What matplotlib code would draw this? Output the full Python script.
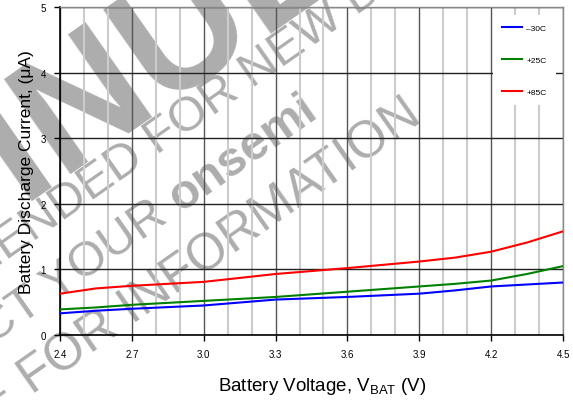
import matplotlib
matplotlib.use("Agg")
import matplotlib.pyplot as plt
import numpy as np

plt.rcParams['font.family'] = ['Liberation Sans', 'DejaVu Sans']

# Data
v = [2.4, 2.55, 2.7, 3.0, 3.3, 3.6, 3.9, 4.05, 4.2, 4.35, 4.5]
i_m30 = [0.33, 0.37, 0.40, 0.45, 0.54, 0.58, 0.63, 0.68, 0.74, 0.77, 0.80]
i_p25 = [0.39, 0.42, 0.46, 0.52, 0.58, 0.66, 0.74, 0.78, 0.83, 0.93, 1.05]
i_p85 = [0.63, 0.71, 0.75, 0.81, 0.93, 1.02, 1.12, 1.18, 1.27, 1.41, 1.58]
labels = ['\u201330C', '+25C', '+85C']
colors = ['#0000ff', '#008000', '#ff0000']
xticks = [2.4, 2.7, 3.0, 3.3, 3.6, 3.9, 4.2, 4.5]
xtick_labels = ['2.4', '2.7', '3.0', '3.3', '3.6', '3.9', '4.2', '4.5']
xminor = [2.5, 2.6, 2.8, 2.9, 3.1, 3.2, 3.4, 3.5, 3.7, 3.8, 4.0, 4.1, 4.3, 4.4]
yticks = [0, 1, 2, 3, 4, 5]

W, H = 573, 402
fig = plt.figure(figsize=(W / 100, H / 100), dpi=100, facecolor='white')
ax = fig.add_axes([60 / W, 1 - 336 / H, 503 / W, 328 / H])
ax.set_facecolor('none')

ax.set_xlim(2.4, 4.5)
ax.set_ylim(0, 5)
ax.set_xticks(xticks)
ax.set_xticklabels(xtick_labels)
ax.set_xticks(xminor, minor=True)
ax.set_yticks(yticks)
ax.tick_params(axis='both', which='major', direction='out', length=4, width=1,
               labelsize=7, pad=6)
ax.tick_params(axis='x', which='minor', length=0)
ax.grid(which='minor', axis='x', color='#cccccc', lw=1.5, zorder=0)
ax.grid(which='major', axis='x', color='#555555', lw=1.0, zorder=1)
ax.grid(which='major', axis='y', color='#222222', lw=1.0, zorder=1)
ax.set_axisbelow(True)
for s in ['left', 'bottom']:
    ax.spines[s].set_color('black')
    ax.spines[s].set_linewidth(1.2)
for s in ['top', 'right']:
    ax.spines[s].set_color('#888888')
    ax.spines[s].set_linewidth(1.0)

for y, lab, c in zip([i_m30, i_p25, i_p85], labels, colors):
    ax.plot(v, y, color=c, lw=1.5, label=lab, zorder=3)

leg = ax.legend(loc='upper left', bbox_to_anchor=((493 - 60) / 503, (336 - 16) / 328),
                fontsize=6, frameon=True, fancybox=False, framealpha=1,
                edgecolor='none', handlelength=2.4, handletextpad=0.5,
                labelspacing=2.9, borderpad=1.1, borderaxespad=0)
leg.set_zorder(2)
for lh in leg.get_lines():
    lh.set_linewidth(1.5)

ax.set_xlabel('Battery Voltage, V$_{\\mathregular{BAT}}$ (V)', fontsize=13.5)
ax.xaxis.set_label_coords((322 - 60) / 503, (336 - 376) / 328)
ax.set_ylabel('Battery Discharge Current, (\u03bcA)', fontsize=12.5, labelpad=5)

# watermark (behind the plot)
def px(x, y):
    return x / W, 1 - y / H

wm = dict(color='#adadad', rotation=35, rotation_mode='anchor',
          va='baseline', zorder=-5)
fig.text(*px(-75, 268), 'DISCONTINUED', fontsize=122, fontweight='bold',
         ha='center', **wm)
fig.text(*px(120, 181), 'NOT RECOMMENDED FOR NEW DESIGN', fontsize=35,
         ha='center', **wm)
fig.text(*px(169, 221), 'CONTACT YOUR', fontsize=35, ha='right', **wm)
fig.text(*px(180, 213), 'onsemi', fontsize=35, fontweight='bold', ha='left', **wm)
fig.text(*px(36, 393), 'REPRESENTATIVE FOR INFORMATION', fontsize=37,
         ha='center', **wm)

fig.savefig('out.png', dpi=100)
